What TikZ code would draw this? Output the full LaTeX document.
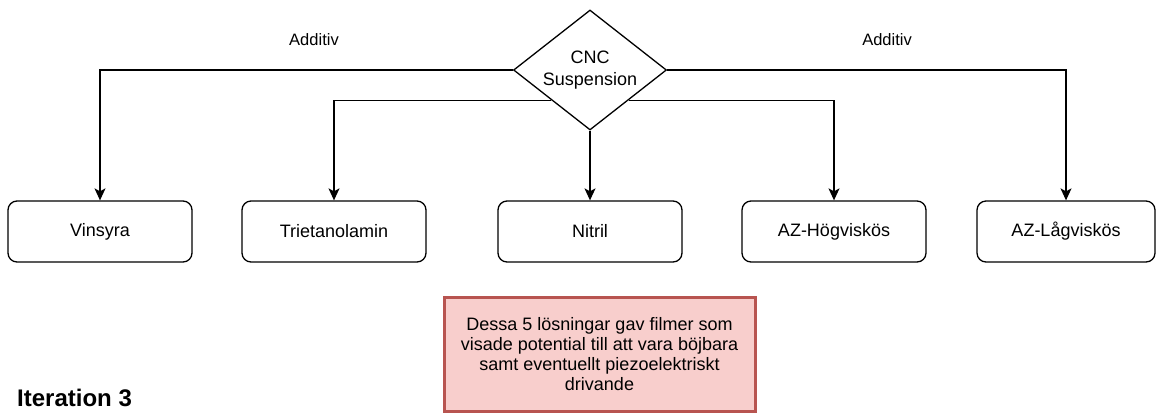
\documentclass[tikz,border=0pt]{standalone}
\usepackage{fontspec}
\setmainfont{Liberation Sans}
\usetikzlibrary{shapes.geometric,arrows.meta,calc}
\definecolor{notefill}{HTML}{F8CECC}
\definecolor{noteline}{HTML}{B85450}
\tikzset{
  box/.style={draw, rounded corners=9pt, line width=1.3pt, minimum width=184pt, minimum height=61pt, inner sep=0pt, font=\fontsize{18}{22}\selectfont},
  conn/.style={line width=1.3pt, -{Stealth[length=12pt,width=11pt,inset=3pt]}},
  lbl/.style={font=\fontsize{16.5}{20}\selectfont},
}
\begin{document}
\begin{tikzpicture}[x=1pt,y=-1pt]
  \useasboundingbox (0,0) rectangle (1156,416);
  \node[draw, diamond, aspect=1.275, minimum width=153pt, minimum height=120pt, inner sep=0pt, line width=1.3pt, align=center, font=\fontsize{18}{22}\selectfont] (cnc) at (590,70) {CNC\\Suspension};
  \node[box] (vinsyra) at (100,231.5) {Vinsyra};
  \node[box] (triet) at (334,231.5) {Trietanolamin};
  \node[box] (nitril) at (590,231.5) {Nitril};
  \node[box] (azhog) at (834,231.5) {AZ-Högviskös};
  \node[box, minimum width=178pt] (azlag) at (1066,231.5) {AZ-Lågviskös};
  % edges from the diamond
  \draw[conn] (cnc.west) -| (vinsyra);
  \draw[conn] (cnc.east) -| (azlag);
  \draw[conn] ($(cnc.west)!0.5!(cnc.south)$) -| (triet);
  \draw[conn] ($(cnc.east)!0.5!(cnc.south)$) -| (azhog);
  \draw[conn] (cnc.south) -- (nitril);
  \node[lbl] (addleft) at (314,40) {Additiv};
  \node[lbl] (addright) at (887,40) {Additiv};
  \node[draw=noteline, fill=notefill, line width=3pt, minimum width=311pt, minimum height=114pt, align=center, font=\fontsize{18}{20}\selectfont] (note) at (599.5,354) {Dessa 5 lösningar gav filmer som\\visade potential till att vara böjbara\\samt eventuellt piezoelektriskt\\drivande};
  \node[anchor=base west, font=\fontsize{24}{28}\selectfont\bfseries, inner sep=0pt] (iter) at (17,406) {Iteration 3};
\end{tikzpicture}
\end{document}
